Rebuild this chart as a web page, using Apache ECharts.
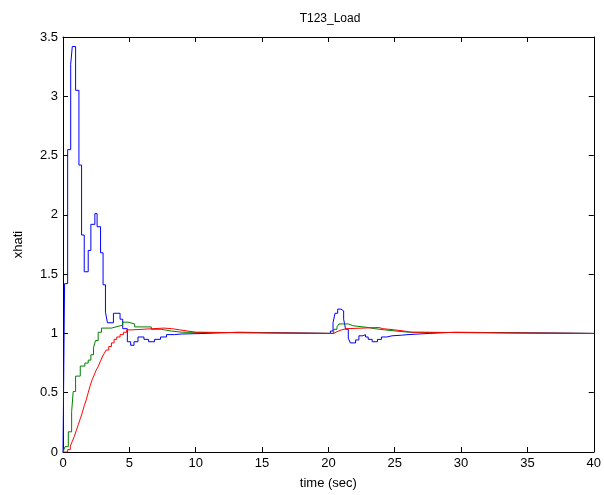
<!DOCTYPE html>
<html>
<head>
<meta charset="utf-8">
<script src="https://cdn.jsdelivr.net/npm/echarts@6/dist/echarts.min.js"></script>
<style>
  html, body { margin: 0; padding: 0; background: #fff; }
  #chart { width: 604px; height: 495px; }
</style>
</head>
<body>
<div id="chart"></div>
<script>
// stair change points: time (sec) and value held from that time on
var blueT = [0, 0.12, 0.35, 0.58, 0.7, 0.95, 1.2, 1.4, 1.6, 1.9, 2.1, 2.4, 2.57, 2.83, 3.02, 3.2, 3.35, 3.8, 4.3, 4.5, 4.85, 5.1, 5.35, 5.65, 6.1, 6.45, 6.9, 7.35, 7.8, 8.4, 8.9, 10.7, 13.2,
    20.15, 20.35, 20.5, 20.7, 20.95, 21.15, 21.3, 21.5, 21.65, 22.05, 22.3, 22.6, 22.8, 23.0, 23.3, 23.7, 24.0, 24.4, 24.8, 25.5, 26.0, 27.6, 29.5, 40];
var blueV = [0, 1.42, 2.55, 3.27, 3.42, 3.05, 2.42, 1.83, 1.52, 1.70, 1.92, 2.01, 1.90, 1.68, 1.41, 1.18, 1.09, 1.17, 1.12, 1.04, 0.93, 0.90, 0.93, 0.97, 0.95, 0.93, 0.95, 0.97, 0.99, 0.995, 1.0, 1.01, 1.0,
    1.02, 1.09, 1.17, 1.205, 1.19, 1.12, 1.035, 0.96, 0.92, 0.945, 0.98, 0.99, 0.97, 0.95, 0.93, 0.95, 0.97, 0.98, 0.985, 0.99, 1.0, 1.01, 1.0, 1.0];

var greenT = [0, 0.15, 0.4, 0.65, 0.77, 0.95, 1.3, 1.65, 1.9, 2.1, 2.3, 2.45, 2.65, 2.9, 3.65, 4.15, 4.5, 4.9, 5.4, 6.65, 7.4, 8.15, 9.0,
    20.4, 20.65, 20.8, 21.5, 21.85, 23.0, 23.5, 24.25, 25.1, 26.1, 40];
var greenV = [0, 0.045, 0.17, 0.34, 0.51, 0.64, 0.725, 0.75, 0.775, 0.82, 0.88, 0.94, 1.01, 1.045, 1.06, 1.07, 1.095, 1.08, 1.055, 1.035, 1.02, 1.01, 1.0,
    1.035, 1.056, 1.08, 1.065, 1.05, 1.04, 1.03, 1.02, 1.01, 1.0, 1.0];

var redT = [0, 0.35, 0.55, 0.7, 0.85, 1.0, 1.15, 1.3, 1.45, 1.6, 1.75, 1.9, 2.05, 2.2, 2.35, 2.5, 2.65, 2.8, 2.95, 3.1, 3.25, 3.45, 3.65, 3.85, 4.05, 4.3, 4.55, 4.8, 5.2, 7.6, 8.2, 8.8, 9.4, 10.0,
    20.4, 20.65, 21.0, 21.35, 23.8, 24.1, 25.0, 25.7, 26.3, 40];
var redV = [0, 0.02, 0.05, 0.09, 0.13, 0.18, 0.23, 0.28, 0.33, 0.39, 0.44, 0.5, 0.56, 0.61, 0.65, 0.69, 0.72, 0.76, 0.8, 0.83, 0.86, 0.89, 0.92, 0.95, 0.97, 0.99, 1.01, 1.03, 1.045, 1.04, 1.03, 1.02, 1.01, 1.0,
    1.015, 1.03, 1.04, 1.05, 1.04, 1.03, 1.02, 1.01, 1.0, 1.0];

var xTicks = [0, 5, 10, 15, 20, 25, 30, 35, 40];
var yTicks = [0, 0.5, 1, 1.5, 2, 2.5, 3, 3.5];

function pairs(t, v) {
    var out = [];
    for (var i = 0; i < t.length; i++) out.push([t[i], v[i]]);
    return out;
}

var font = 'Liberation Sans, Arial, sans-serif';
var tickStyle = { show: true, inside: true, length: 5, lineStyle: { color: '#000', width: 1 } };
var lineStyle = { show: true, onZero: false, lineStyle: { color: '#000', width: 1 } };

function stair(name, t, v, color) {
    return {
        name: name,
        type: 'line',
        step: 'end',
        xAxisIndex: 0,
        yAxisIndex: 0,
        showSymbol: false,
        symbol: 'none',
        data: pairs(t, v),
        lineStyle: { color: color, width: 1 },
        itemStyle: { color: color }
    };
}

var myChart = echarts.init(document.getElementById('chart'), null, { renderer: 'canvas' });
var option = {
    animation: false,
    backgroundColor: '#fff',
    title: {
        text: 'T123_Load',
        left: 325,
        top: 8,
        textAlign: 'center',
        textStyle: { color: '#000', fontSize: 12, fontWeight: 'normal', fontFamily: font }
    },
    grid: { left: 63, right: 8, top: 37, bottom: 43 },
    xAxis: [
        {
            type: 'value',
            position: 'bottom',
            min: xTicks[0],
            max: xTicks[xTicks.length - 1],
            interval: 5,
            name: 'time (sec)',
            nameLocation: 'middle',
            nameGap: 25,
            nameTextStyle: { color: '#000', fontSize: 13, fontFamily: font },
            axisLine: lineStyle,
            axisTick: tickStyle,
            splitLine: { show: false },
            axisLabel: { color: '#000', fontSize: 13, fontFamily: font, margin: 5 }
        },
        {
            type: 'value',
            position: 'top',
            min: xTicks[0],
            max: xTicks[xTicks.length - 1],
            interval: 5,
            axisLine: lineStyle,
            axisTick: tickStyle,
            splitLine: { show: false },
            axisLabel: { show: false }
        }
    ],
    yAxis: [
        {
            type: 'value',
            position: 'left',
            min: yTicks[0],
            max: yTicks[yTicks.length - 1],
            interval: 0.5,
            name: 'xhati',
            nameLocation: 'middle',
            nameGap: 38,
            nameTextStyle: { color: '#000', fontSize: 13, fontFamily: font },
            axisLine: lineStyle,
            axisTick: tickStyle,
            splitLine: { show: false },
            axisLabel: { color: '#000', fontSize: 13, fontFamily: font, margin: 5 }
        },
        {
            type: 'value',
            position: 'right',
            min: yTicks[0],
            max: yTicks[yTicks.length - 1],
            interval: 0.5,
            axisLine: lineStyle,
            axisTick: tickStyle,
            splitLine: { show: false },
            axisLabel: { show: false }
        }
    ],
    series: [
        stair('x1', blueT, blueV, '#0000ff'),
        stair('x2', greenT, greenV, '#008000'),
        stair('x3', redT, redV, '#ff0000')
    ]
};
myChart.setOption(option);
</script>
</body>
</html>
